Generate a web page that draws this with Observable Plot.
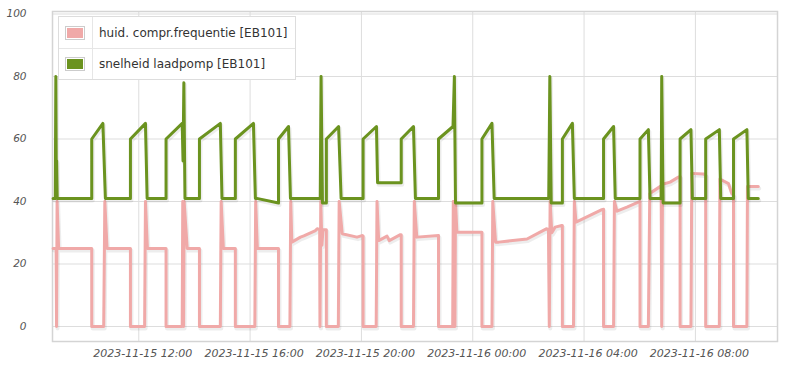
<!DOCTYPE html>
<html><head><meta charset="utf-8">
<script src="https://cdn.jsdelivr.net/npm/d3@7"></script>
<script src="https://cdn.jsdelivr.net/npm/@observablehq/plot@0.6"></script>
<style>
body{margin:0;background:#fff;}
#chart{position:relative;width:800px;height:368px;overflow:hidden;}
.legend{position:absolute;left:58px;top:16px;width:236px;height:62px;border:1px solid #ddd;background:#fff;font:12px "DejaVu Sans",sans-serif;color:#333;}
.legend .vl{position:absolute;left:33px;top:0;width:1px;height:62px;background:#e6e6e6;}
.legend .hl{position:absolute;left:0;top:31px;width:236px;height:1px;background:#e6e6e6;}
.legend .sw{position:absolute;left:6px;width:18px;height:12px;border:1px solid #ccc;padding:0;}
.legend .sw div{width:16px;height:10px;margin:1px;}
.legend .tx{position:absolute;left:40px;line-height:14px;white-space:nowrap;}
</style></head><body><div id="chart"></div><script>
// hours since 2023-11-15 00:00 (local) and values
const seriesNames = ["huid. compr.frequentie [EB101]", "snelheid laadpomp [EB101]"];
const seriesColors = ["#f0a9a8", "#6b931f"];

const compHours = [8.92,9.03,9.045,9.065,9.12,
 10.31,10.31,10.74,10.78,10.86,
 11.70,11.70,12.21,12.24,12.31,
 12.98,12.98,13.56,13.58,13.61,13.63,13.74,
 14.18,14.18,14.93,14.96,15.04,
 15.47,15.47,16.17,16.20,16.26,
 17.02,17.02,17.43,17.46,17.50,17.81,17.93,18.35,18.41,18.50,18.51,18.54,18.58,18.62,18.74,18.74,
 19.17,19.20,19.31,19.84,20.02,20.06,20.06,
 20.53,20.56,20.62,20.92,21.00,21.40,21.43,21.43,
 21.87,21.90,21.99,22.77,22.77,
 23.28,23.30,23.32,23.34,23.36,23.38,23.43,24.33,24.33,
 24.69,24.72,24.82,24.93,25.95,26.42,26.66,26.72,26.75,26.78,26.84,26.96,27.20,27.22,27.22,
 27.62,27.65,27.71,28.64,28.70,28.70,
 29.06,29.09,29.18,29.54,29.95,30.01,30.01,
 30.31,30.36,30.43,30.77,30.79,30.82,31.09,31.39,31.45,31.45,
 31.84,31.87,32.29,32.37,32.37,
 32.86,32.88,33.19,33.31,33.37,33.37,
 33.85,33.87,34.26];
const compFreq = [25,25,0,40,25,
 25,0,0,40,25,
 25,0,0,40,25,
 25,0,0,40,0,40,25,
 25,0,0,40,25,
 25,0,0,40,25,
 25,0,0,40,27,28.6,29,30.7,31.3,31,0,40,26,31,31,0,
 0,40,29.7,28.6,29.1,29,0,
 0,40,27.5,28.9,27.5,29.4,29.4,0,
 0,40,28.6,29.1,0,
 0,40,0,40,0,40,30.2,30.2,0,
 0,40,27,27,28,30.2,31.3,31,0,40,30,31.8,32.3,32.3,0,
 0,40,33.4,37.4,37.5,0,
 0,40,36.9,38.2,39.8,40,0,
 0,42.5,43,45,0,45.5,46.2,47.8,48,0,
 0,49,48.8,48.5,0,
 0,47.2,45.7,42.5,42,0,
 0,44.8,44.8];

const pumpHours = [8.92,9.00,9.02,9.04,9.05,9.07,
 10.31,10.31,10.71,10.80,
 11.70,11.70,12.24,12.30,
 12.98,12.98,13.56,13.59,13.62,13.66,
 14.18,14.18,14.93,14.99,
 15.47,15.47,16.12,16.19,
 16.24,17.02,17.02,17.38,17.45,
 18.52,18.55,18.60,18.74,18.74,19.18,19.27,
 20.06,20.06,20.54,20.58,21.43,21.43,21.87,21.94,
 22.77,22.77,23.29,23.34,23.38,24.33,24.33,24.69,24.77,
 26.73,26.77,26.82,27.22,27.22,27.58,27.65,
 28.70,28.70,29.06,29.12,
 30.01,30.01,30.31,30.37,
 30.77,30.79,30.84,31.45,31.45,31.84,31.89,
 32.37,32.37,32.86,32.91,
 33.37,33.37,33.85,33.90,
 34.26];
const pumpSpeed = [41,41,80,41,53,41,
 41,60,65,41,
 41,60,65,41,
 41,60,65,53,78,41,
 41,60,65,41,
 41,60,65,41,
 41,39.5,60,64,41,
 41,80,39.5,39.5,60,64,41,
 41,60,64,46,46,60,64,41,
 41,60,64,80,39.5,39.5,60,65,41,
 41,80,39.5,39.5,60,65,41,
 41,60,64,41,
 41,60,63,41,
 41,80,39.5,39.5,60,63,41,
 41,60,63,41,
 41,60,63,41,
 41];

const xTickLabels = ["2023-11-15 12:00","2023-11-15 16:00","2023-11-15 20:00","2023-11-16 00:00","2023-11-16 04:00","2023-11-16 08:00"];
const yTicks = [0,20,40,60,80,100];
const xStartHours = 8.90, xEndHours = 34.95;

const base = new Date(2023, 10, 15, 0, 0);
const toDate = h => new Date(+base + h * 3600000);
const parse = d3.timeParse("%Y-%m-%d %H:%M");
const fmt = d3.timeFormat("%Y-%m-%d %H:%M");
const comp = compHours.map((h, i) => ({t: toDate(h), v: compFreq[i]}));
const pump = pumpHours.map((h, i) => ({t: toDate(h), v: pumpSpeed[i]}));
const xTicks = xTickLabels.map(parse);

const chart = Plot.plot({
  width: 800, height: 368,
  marginLeft: 52, marginRight: 23, marginTop: 11, marginBottom: 27,
  style: {fontFamily: "DejaVu Sans", background: "#fff"},
  x: {type: "time", domain: [toDate(xStartHours), toDate(xEndHours)], label: null},
  y: {domain: [-4.8, 100.8], label: null},
  marks: [
    Plot.gridY(yTicks, {stroke: "#ddd", strokeOpacity: 1}),
    Plot.gridX(xTicks, {stroke: "#ddd", strokeOpacity: 1}),
    Plot.frame({stroke: "#d4d4d4", strokeWidth: 1.5}),
    Plot.axisY(yTicks, {tickSize: 0, tickPadding: 26, fontSize: 10.5, fontStyle: "italic", fill: "#555", label: null}),
    Plot.axisX(xTicks, {tickSize: 0, tickPadding: 8, fontSize: 11, fontStyle: "italic", fill: "#555", dx: 4, tickFormat: fmt, label: null}),
    Plot.line(comp, {x: "t", y: "v", stroke: "#000", strokeOpacity: 0.07, strokeWidth: 4, dy: 2, dx: 1}),
    Plot.line(comp, {x: "t", y: "v", stroke: seriesColors[0], strokeWidth: 3, strokeLinejoin: "round"}),
    Plot.line(pump, {x: "t", y: "v", stroke: "#000", strokeOpacity: 0.07, strokeWidth: 4, dy: 2, dx: 1}),
    Plot.line(pump, {x: "t", y: "v", stroke: seriesColors[1], strokeWidth: 3, strokeLinejoin: "round"})
  ]
});
const host = document.getElementById("chart");
host.appendChild(chart);

const lg = document.createElement("div");
lg.className = "legend";
lg.innerHTML = `<div class="vl"></div><div class="hl"></div>` +
  seriesNames.map((n, i) =>
    `<div class="sw" style="top:${9 + i * 31}px"><div style="background:${seriesColors[i]}"></div></div>` +
    `<div class="tx" style="top:${9 + i * 31}px">${n}</div>`).join("");
host.appendChild(lg);
</script></body></html>
